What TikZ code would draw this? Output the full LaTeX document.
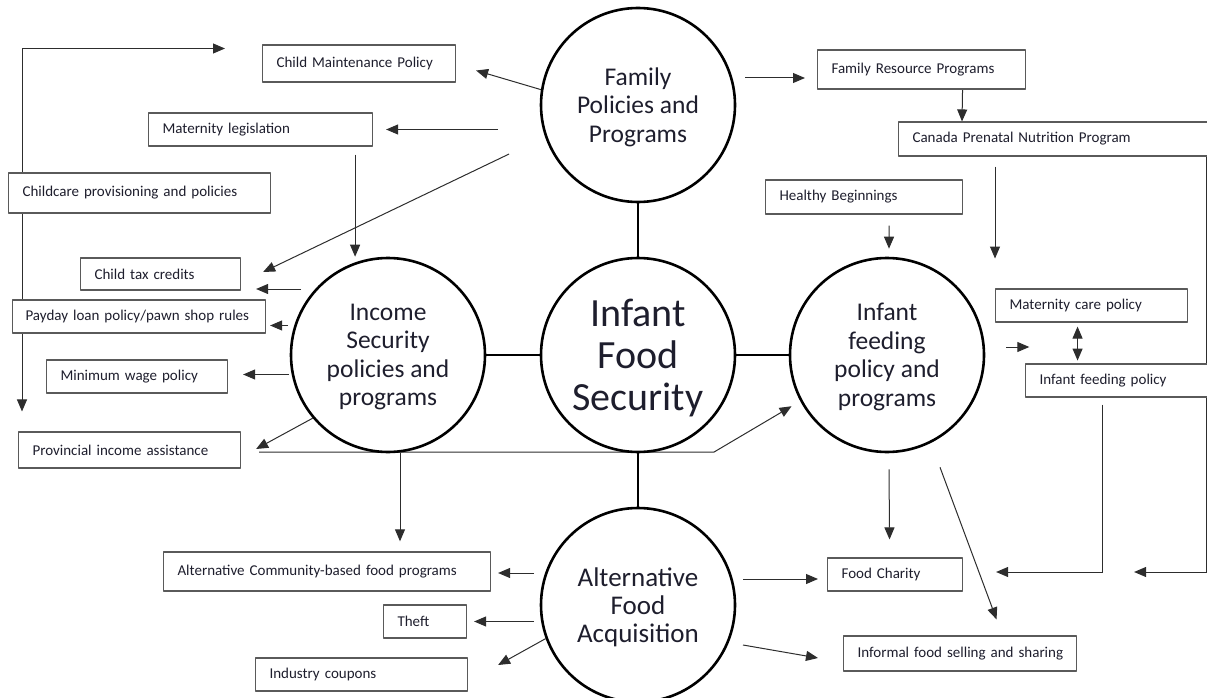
\documentclass[tikz,border=0pt]{standalone}
\usepackage{fontspec}
\setmainfont{Carlito}
\usetikzlibrary{arrows.meta,calc,backgrounds}
\definecolor{boxgray}{RGB}{90,90,90}
\definecolor{linegray}{RGB}{45,45,45}
\definecolor{txt}{RGB}{30,30,45}

\begin{document}
\begin{tikzpicture}[x=1pt, y=-1pt, line join=round, >={Triangle[length=12pt,width=10pt]},
		hub/.style={circle, draw, line width=2.6pt, minimum size=194pt, inner sep=0pt, align=center, text depth=0pt, text=txt, font=\fontsize{25.5}{28.5}\selectfont},
		pbox/.style={draw=boxgray, line width=1.1pt, fill=white, anchor=west, align=left, inner xsep=14pt, minimum height=34pt, text=txt, font=\fontsize{15}{18}\selectfont},
		arr/.style={->, draw=linegray, line width=1pt},
		link/.style={line width=2.6pt}]
	\useasboundingbox (0,0) rectangle (1207,698);
	% hubs
	\node[hub] (fam) at (638,105) {Family\\Policies and\\Programs};
	\node[hub, font=\fontsize{40}{42}\selectfont] (core) at (638,355) {Infant\\Food\\Security};
	\node[hub] (inc) at (388,355) {Income\\Security\\policies and\\programs};
	\node[hub] (feed) at (887,355) {Infant\\feeding\\policy and\\programs};
	\node[hub, font=\fontsize{27}{28}\selectfont] (alt) at (638,605) {Alternative\\Food\\Acquisition};
	% boxes, left side
	\node[pbox, text width=165pt, minimum height=37pt] (cmp) at (262,63.5) {Child Maintenance Policy};
	\node[pbox, text width=196pt, minimum height=33pt] (mat) at (148,129.5) {Maternity legislation};
	\node[pbox, text width=234pt, minimum height=40pt] (ccp) at (8,193) {Childcare provisioning and policies};
	\node[pbox, text width=132pt, minimum height=32pt] (ctc) at (80,274) {Child tax credits};
	\node[pbox, text width=227pt, minimum height=33pt, inner xsep=13pt] (pay) at (12,316.5) {Payday loan policy/pawn shop rules};
	\node[pbox, text width=153pt, minimum height=33pt] (mwp) at (46,376.5) {Minimum wage policy};
	\node[pbox, text width=194pt, minimum height=36pt] (pia) at (18,450) {Provincial income assistance};
	% boxes, right side
	\node[pbox, text width=180pt, minimum height=39pt] (frp) at (817,69.5) {Family Resource Programs};
	\node[pbox, text width=281pt, minimum height=34pt] (cpnp) at (898,139) {Canada Prenatal Nutrition Program};
	\node[pbox, text width=169pt, minimum height=34pt] (hb) at (765,197) {Healthy Beginnings};
	\node[pbox, text width=164pt, minimum height=33pt] (mcp) at (995,305.5) {Maternity care policy};
	\node[pbox, text width=154pt, minimum height=33pt] (ifp) at (1025,380.5) {Infant feeding policy};
	% boxes, bottom
	\node[pbox, text width=107pt, minimum height=33pt] (fc) at (827,574.5) {Food Charity};
	\node[pbox, text width=205pt, minimum height=35pt] (ifs) at (843,653.5) {\mbox{Informal food selling and sharing}};
	\node[pbox, text width=299pt, minimum height=39pt] (acf) at (163,571.5) {Alternative Community-based food programs};
	\node[pbox, text width=55pt, minimum height=33pt] (theft) at (383,621.5) {Theft};
	\node[pbox, text width=184pt, minimum height=33pt] (cpn) at (255,674.5) {Industry coupons};

	\begin{scope}[on background layer]
		\draw[link] (fam.south)--(core.north);
		\draw[link] (inc.east)--(core.west);
		\draw[link] (core.east)--(feed.west);
		\draw[link] (core.south)--(alt.north);
		% family policies
		\draw[arr] (fam.171)--($(cmp.east)+(20,7)$);
		\draw[arr] ($(mat.east)+(125,0)$)--($(mat.east)+(13,0)$);
		\draw[arr] ($(ctc.east)+(268,-120)$)--($(ctc.east)+(22,-2)$);
		\draw[arr] ($(mat.south east)+(-18,8)$)--($(inc.north -| mat.south east)+(-18,0)$);
		\draw[arr] ($(frp.west)+(-72,8.5)$)--($(frp.west)+(-12,8.5)$);
		\draw[arr] ($(frp.south)+(41,0)$)--($(cpnp.north west)+(64,0)$);
		\draw[arr] ($(cpnp.south west)+(97,10)$)--++(0,92);
		\draw[arr] ($(cpnp.south east)+(-2,0)$)|-($(fc.east)+(171,-2.5)$);
		% loop on the left
		\draw[arr, <->] ($(pia.north west)+(4,-20)$)|-($(cmp.west)+(-37,-15)$);
		% income security
		\draw[arr] ($(ctc.east)+(60,15)$)--($(ctc.east)+(15,15)$);
		\draw[arr] ($(pay.east)+(22,9)$)--($(pay.east)+(4,9)$);
		\draw[arr] ($(mwp.east)+(61,-2)$)--($(mwp.east)+(15,-2)$);
		\draw[arr] (inc.220)--($(pia.east)+(15,-1)$);
		\draw[arr, shorten >=10pt] ($(pia.east)+(18,2)$)--++(455,0)--(feed.208);
		\draw[arr] ($(inc.south)+(12,0)$)--($(inc.south)+(12,88)$);
		% infant feeding
		\draw[arr] ($(hb.south)+(25,11)$)--($(feed.north)+(2,-8)$);
		\draw[arr] ($(feed.east)+(21,-8)$)--($(feed.east)+(44,-8)$);
		\draw[arr, <->] ($(mcp.south)+(-14,4)$)--($(mcp.south)+(-14,38)$);
		\draw[arr] ($(ifp.south)+(-14,7)$)|-($(fc.east)+(33,-2.5)$);
		\draw[arr] ($(feed.south)+(2,16)$)--($(fc.north)+(-5.5,-18)$);
		\draw[arr] ($(feed.south)+(53,14)$)--($(ifs.north)+(36.5,-16)$);
		% alternative food acquisition
		\draw[arr] ($(fc.west)+(-84,4.5)$)--($(fc.west)+(-9,4.5)$);
		\draw[arr] ($(ifs.west)+(-100,-8.5)$)--($(ifs.west)+(-25,4.5)$);
		\draw[arr] ($(acf.east)+(43,1.5)$)--($(acf.east)+(7,1.5)$);
		\draw[arr] ($(theft.east)+(67,0)$)--($(theft.east)+(7,0)$);
		\draw[arr] (alt.200)--($(cpn.east)+(30,-9.5)$);
	\end{scope}
\end{tikzpicture}
\end{document}
